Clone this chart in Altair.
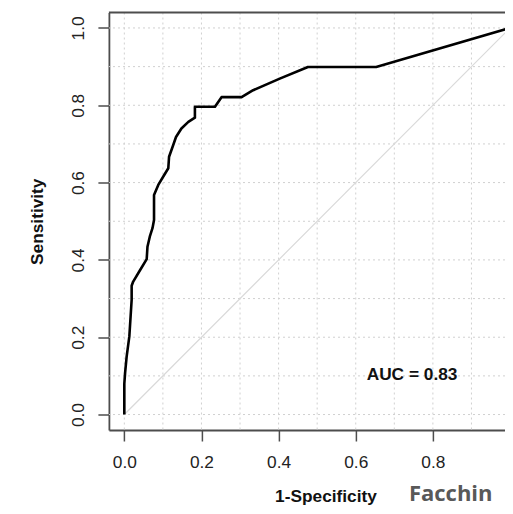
import altair as alt
import pandas as pd

# ROC curve points
fpr = [0, 0, 0.002, 0.006, 0.013, 0.019, 0.019, 0.023, 0.041, 0.058, 0.06, 0.066,
       0.073, 0.077, 0.077, 0.088, 0.103, 0.114, 0.116, 0.125, 0.134, 0.148, 0.166,
       0.183, 0.183, 0.235, 0.252, 0.304, 0.334, 0.403, 0.476, 0.653, 1.0]
tpr = [0, 0.08, 0.108, 0.15, 0.202, 0.297, 0.333, 0.344, 0.374, 0.402, 0.434, 0.46,
       0.482, 0.503, 0.568, 0.594, 0.619, 0.637, 0.667, 0.692, 0.718, 0.74, 0.757,
       0.768, 0.796, 0.796, 0.821, 0.821, 0.839, 0.869, 0.899, 0.899, 1.0]
tick_values = [0.0, 0.2, 0.4, 0.6, 0.8, 1.0]
grid_values = [0.0, 0.1, 0.2, 0.3, 0.4, 0.5, 0.6, 0.7, 0.8, 0.9, 1.0]
diag_x = [0.0, 1.0]
diag_y = [0.0, 1.0]
auc_text = ["AUC = 0.83"]
auc_x = [0.746]
auc_y = [0.103]
x_title = "1-Specificity"
y_title = "Sensitivity"
corner_text = ["Facchin"]
# plot box: R pads the 0..1 range by 4% on each side; the picture is cropped on the right
x_domain = [-0.04, 0.987]
y_domain = [-0.04, 1.04]
box_top = [1.04]

curve_df = pd.DataFrame({"fpr": fpr, "tpr": tpr, "i": range(len(fpr))})
grid_df = pd.DataFrame({"g": grid_values})
diag_df = pd.DataFrame({"fpr": diag_x, "tpr": diag_y})
auc_df = pd.DataFrame({"fpr": auc_x, "tpr": auc_y, "t": auc_text})
corner_df = pd.DataFrame({"t": corner_text})
top_df = pd.DataFrame({"y": box_top})

FONT = "Liberation Sans"
FS = 17.3
BOX = "#4d4d4d"

xscale = alt.Scale(domain=x_domain, nice=False, zero=False)
yscale = alt.Scale(domain=y_domain, nice=False, zero=False)

W, H = 396.1, 417.5

xaxis = alt.Axis(values=tick_values, format=".1f", grid=False,
                 domain=True, domainColor=BOX, domainWidth=1.8,
                 tickSize=11, tickColor=BOX, tickWidth=1.5,
                 labelFont=FONT, labelFontSize=FS, labelColor="#222222",
                 labelBaseline="alphabetic", labelPadding=26.4, labelFlush=False,
                 labelOverlap=False, labelBound=False,
                 title=x_title, titleFont=FONT, titleFontSize=FS, titleFontWeight="bold",
                 titleColor="#111111", titleBaseline="alphabetic",
                 titleX=216.6, titleY=71)
yaxis = alt.Axis(values=tick_values, format=".1f", grid=False,
                 domain=True, domainColor=BOX, domainWidth=1.8,
                 tickSize=11, tickColor=BOX, tickWidth=1.5,
                 labelFont=FONT, labelFontSize=FS, labelColor="#222222",
                 labelAngle=270, labelAlign="center", labelBaseline="alphabetic",
                 labelPadding=14.4, labelFlush=False, labelOverlap=False,
                 title=y_title, titleFont=FONT, titleFontSize=FS, titleFontWeight="bold",
                 titleColor="#111111", titleAngle=270, titleBaseline="alphabetic",
                 titleAlign="center", titleX=-66, titleY=H / 2)

grid_x = alt.Chart(grid_df).mark_rule(color="#d0d0d0", strokeDash=[2, 3], strokeWidth=1,
                                      clip=True).encode(
    x=alt.X("g:Q", scale=xscale, axis=xaxis))
grid_y = alt.Chart(grid_df).mark_rule(color="#d0d0d0", strokeDash=[2, 3], strokeWidth=1,
                                      clip=True).encode(
    y=alt.Y("g:Q", scale=yscale, axis=yaxis))

top_edge = alt.Chart(top_df).mark_rule(color=BOX, strokeWidth=1.8).encode(
    y=alt.Y("y:Q", scale=yscale, axis=yaxis))

diag = alt.Chart(diag_df).mark_line(color="#d9d9d9", strokeWidth=1.2, clip=True).encode(
    x=alt.X("fpr:Q", scale=xscale, axis=xaxis),
    y=alt.Y("tpr:Q", scale=yscale, axis=yaxis))

curve = alt.Chart(curve_df).mark_line(color="#000000", strokeWidth=2.6, strokeJoin="round",
                                      clip=True).encode(
    x=alt.X("fpr:Q", scale=xscale, axis=xaxis),
    y=alt.Y("tpr:Q", scale=yscale, axis=yaxis),
    order="i:Q")

auc = alt.Chart(auc_df).mark_text(font=FONT, fontSize=FS, fontWeight="bold", color="#111111",
                                  align="center", baseline="middle").encode(
    x=alt.X("fpr:Q", scale=xscale, axis=xaxis),
    y=alt.Y("tpr:Q", scale=yscale, axis=yaxis),
    text="t:N")

corner = alt.Chart(corner_df).mark_text(font="Open Sans", fontSize=22, fontWeight="bold",
                                        color="#595959", align="left", baseline="alphabetic",
                                        clip=False).encode(
    x=alt.value(300), y=alt.value(488), text="t:N")

chart = alt.layer(grid_x, grid_y, diag, top_edge, curve, auc, corner).properties(
    width=W, height=H,
    autosize=alt.AutoSizeParams(type="none"),
    padding={"left": 100.9, "top": 4.5, "right": 0, "bottom": 75},
    background="white",
).configure_view(stroke=None)

chart.save("out.html", embed_options={"renderer": "svg", "actions": False})
